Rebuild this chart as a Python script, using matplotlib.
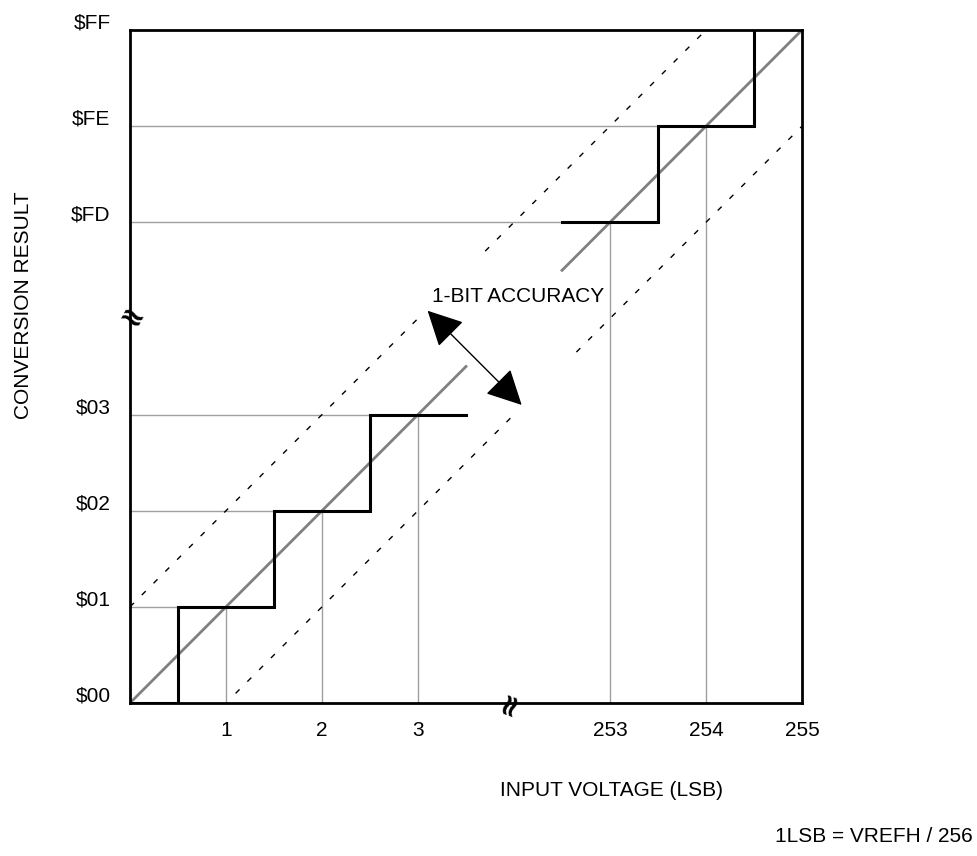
import matplotlib
matplotlib.use('Agg')
import matplotlib.pyplot as plt
import matplotlib.transforms as mtransforms
import numpy as np

plt.rcParams['font.family'] = ['Liberation Sans', 'DejaVu Sans']

# axis positions (compressed scale with a break between 3 and 253 / $03 and $FD)
x_pos = [1, 2, 3, 5, 6, 7]
x_labels = ['1', '2', '3', '253', '254', '255']
y_pos = [0, 1, 2, 3, 5, 6, 7]
y_labels = ['\\$00', '\\$01', '\\$02', '\\$03', '\\$FD', '\\$FE', '\\$FF']

# staircase (actual conversion result)
low_steps_x = [0, 0.5, 0.5, 1.5, 1.5, 2.5, 2.5, 3.5]
low_steps_y = [0, 0, 1, 1, 2, 2, 3, 3]
high_steps_x = [4.5, 5.5, 5.5, 6.5, 6.5]
high_steps_y = [5, 5, 6, 6, 7]

# ideal transfer line
ideal_low = ([0, 3.5], [0, 3.5])
ideal_high = ([4.5, 7], [4.5, 7])

# +/- 1 LSB accuracy bounds
upper_low = ([0, 3.0], [1, 4.0])
lower_low = ([1.1, 4.0], [0.1, 3.0])
upper_high = ([3.7, 6.0], [4.7, 7.0])
lower_high = ([4.65, 7.0], [3.65, 6.0])

# guide lines from axes to ideal codes
guide_low = [1, 2, 3]
guide_high = [5, 6]

FS = 15

fig = plt.figure(figsize=(9.78, 8.56), dpi=100)
ax = fig.add_axes([130 / 978, 153 / 856, 672 / 978, 673 / 856])
ax.set_xlim(0, 7)
ax.set_ylim(0, 7)

gray = '#a0a0a0'
for v in guide_low:
    ax.plot([0, v], [v, v], color=gray, lw=1)
    ax.plot([v, v], [0, v], color=gray, lw=1)
ax.plot([0, 4.5], [5, 5], color=gray, lw=1)
ax.plot([0, 5.5], [6, 6], color=gray, lw=1)
for v in guide_high:
    ax.plot([v, v], [0, v], color=gray, lw=1)

for xs, ys in [upper_low, lower_low, upper_high, lower_high]:
    ax.plot(xs, ys, color='black', lw=1, linestyle=(0, (4, 8)))

ax.plot(*ideal_low, color='#808080', lw=2)
ax.plot(*ideal_high, color='#808080', lw=2)

ax.plot(low_steps_x, low_steps_y, color='black', lw=2.2, solid_joinstyle='miter')
ax.plot(high_steps_x, high_steps_y, color='black', lw=2.2, solid_joinstyle='miter')

ax.annotate('', xy=(3.1, 4.08), xytext=(4.08, 3.1),
            arrowprops=dict(arrowstyle='<|-|>,head_length=0.55,head_width=0.28',
                            color='black', lw=1,
                            mutation_scale=40, shrinkA=0, shrinkB=0))
ax.text(3.15, 4.23, '1-BIT ACCURACY', fontsize=FS, va='center', ha='left')

for s in ax.spines.values():
    s.set_linewidth(2)
ax.set_xticks(x_pos)
ax.set_xticklabels(x_labels, fontsize=FS)
ax.set_yticks(y_pos)
ax.set_yticklabels(y_labels, fontsize=FS)
ax.tick_params(axis='y', length=0, pad=14)
ax.tick_params(axis='x', length=0, pad=13)
# value labels sit slightly above their code level
shift = mtransforms.ScaledTranslation(0, 9 / 100, fig.dpi_scale_trans)
for lbl in ax.get_yticklabels():
    lbl.set_transform(lbl.get_transform() + shift)

# axis break marks
ax.text(3.96, 0, '≈', family='DejaVu Sans', fontweight='bold', fontsize=22,
        rotation=70, ha='center', va='center', clip_on=False, zorder=5)
ax.text(0.0, 3.98, '≈', family='DejaVu Sans', fontweight='bold', fontsize=22,
        rotation=-28, ha='center', va='center', clip_on=False, zorder=5)

fig.text(24 / 978, 1 - 305 / 856, 'CONVERSION RESULT', rotation=90,
         fontsize=FS, ha='center', va='center')
fig.text(611 / 978, 1 - 790 / 856, 'INPUT VOLTAGE (LSB)', fontsize=FS,
         ha='center', va='center')
fig.text(973 / 978, 1 - 837 / 856, '1LSB = VREFH / 256', fontsize=FS,
         ha='right', va='center')

fig.savefig('out.png', dpi=100)
